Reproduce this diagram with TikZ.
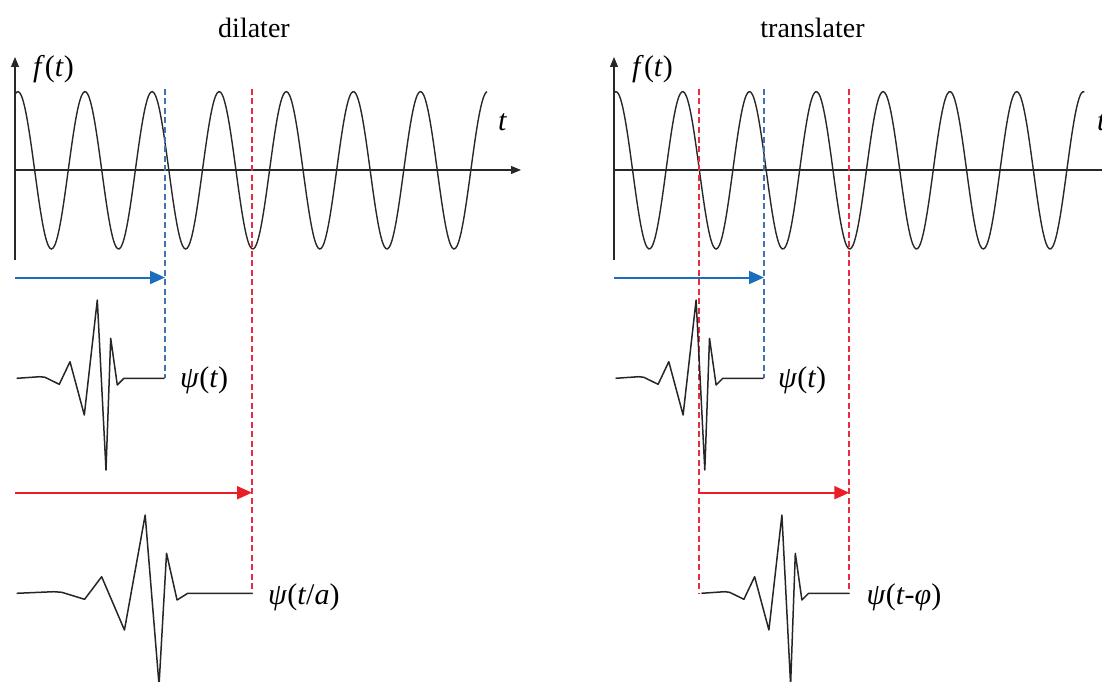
\documentclass[tikz,border=0pt]{standalone}
\usepackage{fontspec}
\setmainfont{Liberation Serif}
\usetikzlibrary{arrows.meta}
\definecolor{arrblue}{RGB}{25,110,190}
\definecolor{dashblue}{RGB}{65,115,175}
\definecolor{arrred}{RGB}{235,30,40}
\definecolor{dashred}{RGB}{230,45,65}
\definecolor{ink}{RGB}{40,40,40}
\tikzset{
  axisline/.style={draw=ink, line width=1.1pt, -{Triangle[length=10pt,width=8pt]}},
  sig/.style={draw=ink, line width=1.4pt},
  wave/.style={draw=black!85, line width=1.5pt, line join=round},
  shiftarrow/.style={line width=2pt, -{Triangle[length=15pt,width=13pt]}},
  guide/.style={line width=1.8pt, dash pattern=on 6pt off 3.5pt},
  lab/.style={inner sep=0pt, anchor=base west, font=\fontsize{30}{32}\selectfont},
  ttl/.style={inner sep=0pt, anchor=base, font=\fontsize{28}{30}\selectfont},
  wavelet/.pic={\draw[wave] (0,0) -- (23.3,-1.6) -- (28.3,-1) -- (42.6,6) -- (53.3,-16.6) -- (67.6,36.7) -- (80.6,-78.3) -- (89.3,91.7) -- (94,-40) -- (100.6,6.7) -- (107.3,0) -- (148,0);}
}
\begin{document}
\begin{tikzpicture}[x=1pt,y=-1pt]
\useasboundingbox (0,0) rectangle (1102,682);
\clip (0,0) rectangle (1102,682);

% ---------- left panel: dilater ----------
\node[ttl] (tl) at (254,38) {dilater};
\coordinate (lo) at (15,170);
\coordinate (lybot) at (15,260);
\coordinate (lytop) at (15,57);
\coordinate (lxend) at (521,170);
\draw[axisline] (lybot) -- (lytop);
\draw[axisline] (lo) -- (lxend);
\node[lab] (lf) at (33,76.5) {\textit{f}(\textit{t})};
\node[lab] (lt) at (498,130) {\textit{t}};
\draw[sig] plot[domain=15:487, samples=300, smooth] (\x, {170.3-78.7*cos(5.36513*(\x-17.9))});

\coordinate (lbtop) at (165,89);
\coordinate (lbbot) at (165,378.3);
\coordinate (lrtop) at (252,89);
\coordinate (lrbot) at (252,593.3);
\draw[guide, dashblue] (lbtop) -- (lbbot);
\draw[guide, dashred] (lrtop) -- (lrbot);

\coordinate (lbs) at (15,277.5);
\coordinate (lbe) at (165,277.5);
\draw[shiftarrow, arrblue] (lbs) -- (lbe);
\coordinate (lrs) at (15,492.7);
\coordinate (lre) at (252,492.7);
\draw[shiftarrow, arrred] (lrs) -- (lre);

\pic at (16.7,378.3) {wavelet};
\pic[xscale=1.594] at (16.7,593.3) {wavelet};
\node[lab] (lpsi) at (180,387) {\textit{ψ}(\textit{t})};
\node[lab] (lpsia) at (268,604) {\textit{ψ}(\textit{t}/\textit{a})};

% ---------- right panel: translater ----------
\node[ttl] (tr) at (812.5,38) {translater};
\coordinate (ro) at (614,170);
\coordinate (rybot) at (614,260);
\coordinate (rytop) at (614,57);
\coordinate (rxend) at (1120,170);
\draw[axisline] (rybot) -- (rytop);
\draw[axisline] (ro) -- (rxend);
\node[lab] (rf) at (632,76.5) {\textit{f}(\textit{t})};
\node[lab] (rt) at (1097,130) {\textit{t}};
\draw[sig] plot[domain=614:1084.3, samples=300, smooth] (\x, {170.3-78.7*cos(5.38922*(\x-615.9))});

\coordinate (rr1top) at (699.3,89);
\coordinate (rr1bot) at (699.3,593.3);
\coordinate (rbtop) at (764,89);
\coordinate (rbbot) at (764,378.3);
\coordinate (rr2top) at (849.3,89);
\coordinate (rr2bot) at (849.3,593.3);
\draw[guide, dashred] (rr1top) -- (rr1bot);
\draw[guide, dashblue] (rbtop) -- (rbbot);
\draw[guide, dashred] (rr2top) -- (rr2bot);

\coordinate (rbs) at (614,277.5);
\coordinate (rbe) at (764,277.5);
\draw[shiftarrow, arrblue] (rbs) -- (rbe);
\coordinate (rrs) at (699.3,492.7);
\coordinate (rre) at (849.3,492.7);
\draw[shiftarrow, arrred] (rrs) -- (rre);

\pic at (615.5,378.3) {wavelet};
\pic at (701.3,593.3) {wavelet};
\node[lab] (rpsi) at (778,387) {\textit{ψ}(\textit{t})};
\node[lab] (rpsip) at (866.5,604) {\textit{ψ}(\textit{t}-\textit{φ})};
\end{tikzpicture}
\end{document}
